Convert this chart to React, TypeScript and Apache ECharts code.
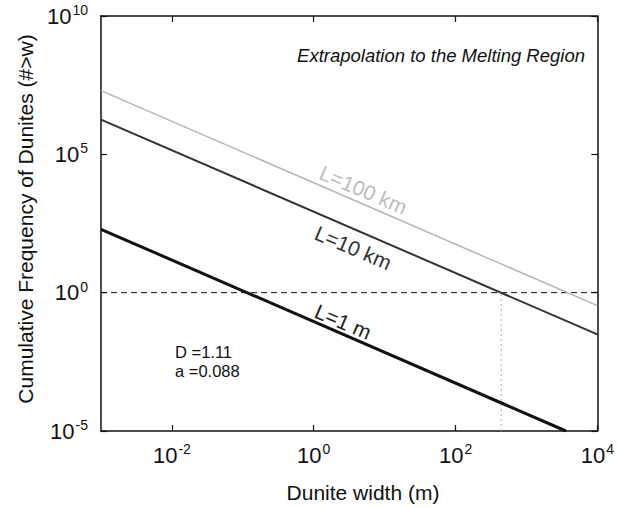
import React, { useEffect, useRef } from "react";
import * as echarts from "echarts";

// ---- data ----
const l1mX = [0.001, 3600];
const l1mY = [195, 0.00001];
const l10kmX = [0.001, 10000];
const l10kmY = [1.8e6, 0.031];
const l100kmX = [0.001, 10000];
const l100kmY = [2.0e7, 0.34];
const refLevelX = [0.001, 10000];
const refLevelY = [1, 1];
const crossX = [440, 440];
const crossY = [0.00001, 1];
const xTicks = [0.01, 1, 100, 10000];
const yTicks = [0.00001, 1, 100000, 1e10];
const lineLabels = ["L=1 m", "L=10 km", "L=100 km"];
const labelAnchorX = [2.6, 3.6, 5.0];
const labelAnchorY = [0.089, 42, 5200];
const paramTexts = ["D =1.11", "a =0.088"];

const FONT = "Liberation Sans, Arial, sans-serif";

const zip = (xs: number[], ys: number[]) => xs.map((x, i) => [x, ys[i]]);

const powFmt = (v: number) => `{b|10}{s|${Math.round(Math.log10(v))}}`;
const richTick = {
  b: { fontSize: 22, fontFamily: FONT, color: "#111", lineHeight: 26 },
  s: { fontSize: 14, fontFamily: FONT, color: "#111", verticalAlign: "top", lineHeight: 26, padding: [0, 0, 12, 1] },
};

export default function App() {
  const ref = useRef<HTMLDivElement>(null);
  useEffect(() => {
    if (!ref.current) return;
    const chart = echarts.init(ref.current, null, { renderer: "svg" });
    const axisLine = { show: true, lineStyle: { color: "#111", width: 1.5 } };
    const tick = (vals: number[]) => ({ show: true, inside: true, length: 6, customValues: vals, lineStyle: { color: "#111", width: 1.2 } });
    const option: any = {
      animation: false,
      backgroundColor: "#fff",
      grid: { left: 101, right: 18, top: 16, bottom: 77, containLabel: false },
      xAxis: [
        {
          type: "log", logBase: 10, min: 0.001, max: 10000,
          axisLine, splitLine: { show: false }, minorTick: { show: false },
          axisTick: tick(xTicks),
          axisLabel: { show: true, margin: 11, customValues: xTicks, formatter: powFmt, rich: richTick },
        },
        {
          type: "log", logBase: 10, min: 0.001, max: 10000, position: "top",
          axisLine, splitLine: { show: false },
          axisTick: tick(xTicks),
          axisLabel: { show: false },
        },
      ],
      yAxis: [
        {
          type: "log", logBase: 10, min: 0.00001, max: 1e10,
          axisLine, splitLine: { show: false },
          axisTick: tick(yTicks),
          axisLabel: { show: true, margin: 13, customValues: yTicks, formatter: powFmt, rich: richTick },
        },
        {
          type: "log", logBase: 10, min: 0.00001, max: 1e10, position: "right",
          axisLine, splitLine: { show: false },
          axisTick: tick(yTicks),
          axisLabel: { show: false },
        },
      ],
      series: [
        {
          name: "ref", type: "line", data: zip(refLevelX, refLevelY), showSymbol: false, symbol: "none",
          lineStyle: { color: "#111", width: 1, type: [6, 4] }, z: 1,
        },
        {
          name: "cross", type: "line", data: zip(crossX, crossY), showSymbol: false, symbol: "none",
          lineStyle: { color: "#aaa", width: 1, type: [2, 3] }, z: 1,
        },
        {
          name: lineLabels[2], type: "line", data: zip(l100kmX, l100kmY), showSymbol: false, symbol: "none",
          lineStyle: { color: "#b4b4b4", width: 1.5 }, z: 2,
        },
        {
          name: lineLabels[1], type: "line", data: zip(l10kmX, l10kmY), showSymbol: false, symbol: "none",
          lineStyle: { color: "#333", width: 2 }, z: 3,
        },
        {
          name: lineLabels[0], type: "line", data: zip(l1mX, l1mY), showSymbol: false, symbol: "none",
          lineStyle: { color: "#111", width: 3 }, z: 3,
        },
      ],
    };
    chart.setOption(option);

    const rot = -Math.atan(201 / 468);
    const labelColors = ["#222", "#333", "#bdbdbd"];
    const graphics: any[] = lineLabels.map((t, i) => {
      const p = chart.convertToPixel({ gridIndex: 0 } as any, [labelAnchorX[i], labelAnchorY[i]]) as number[];
      return {
        type: "text", x: p[0], y: p[1], rotation: rot,
        style: { text: t, fontSize: 21, fontFamily: FONT, fill: labelColors[i], align: "center", verticalAlign: "middle" },
        z: 10,
      };
    });
    graphics.push(
      {
        type: "text", x: 585, y: 55,
        style: { text: "Extrapolation to the Melting Region", fontSize: 18.5, fontStyle: "italic", fontFamily: FONT, fill: "#111", align: "right", verticalAlign: "middle" },
      },
      {
        type: "text", x: 175, y: 352,
        style: { text: paramTexts[0], fontSize: 16.5, fontFamily: FONT, fill: "#111", align: "left", verticalAlign: "middle" },
      },
      {
        type: "text", x: 175, y: 371,
        style: { text: paramTexts[1], fontSize: 16.5, fontFamily: FONT, fill: "#111", align: "left", verticalAlign: "middle" },
      },
      {
        type: "text", x: 363, y: 492,
        style: { text: "Dunite width (m)", fontSize: 21, fontFamily: FONT, fill: "#111", align: "center", verticalAlign: "middle" },
      },
      {
        type: "text", x: 25, y: 219, rotation: Math.PI / 2,
        style: { text: "Cumulative Frequency of Dunites (#>w)", fontSize: 21, fontFamily: FONT, fill: "#111", align: "center", verticalAlign: "middle" },
      }
    );
    chart.setOption({ graphic: graphics });
    return () => chart.dispose();
  }, []);
  return <div ref={ref} style={{ position: "absolute", left: 0, top: 0, width: 617, height: 508 }} />;
}
